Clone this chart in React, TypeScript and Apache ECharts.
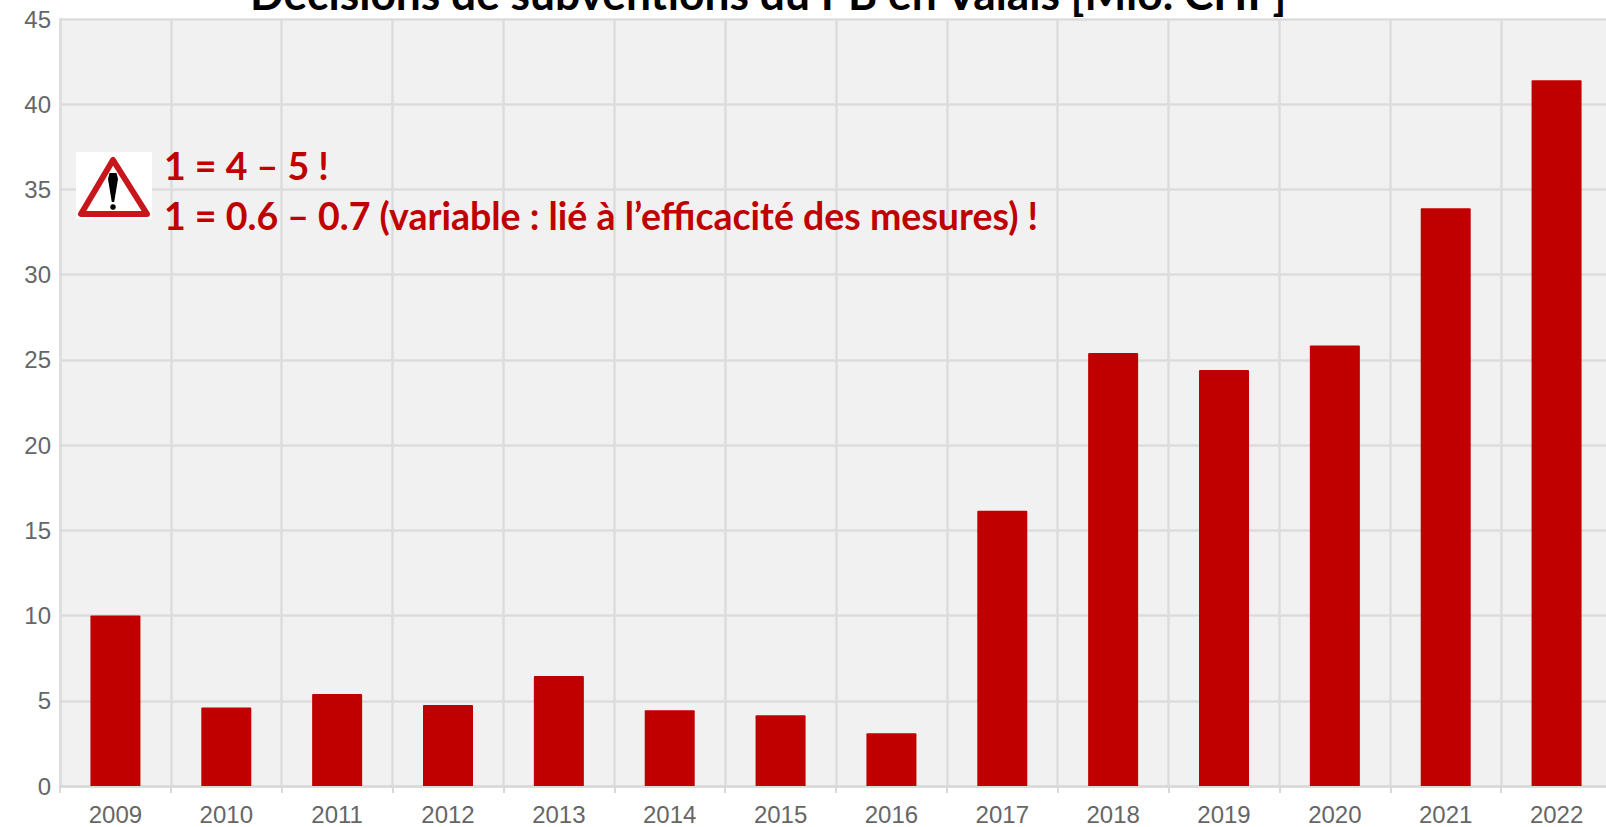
import React, { useEffect, useRef } from "react";
import * as echarts from "echarts";

const years = ["2009","2010","2011","2012","2013","2014","2015","2016","2017","2018","2019","2020","2021","2022"];
const subsidies = [10, 4.6, 5.4, 4.75, 6.45, 4.45, 4.15, 3.1, 16.15, 25.4, 24.4, 25.85, 33.9, 41.4];
const titleText = "Décisions de subventions du PB en Valais [Mio. CHF]";
const noteLine1 = "1 = 4 – 5 !";
const noteLine2 = "1 = 0.6 – 0.7 (variable : lié à l’efficacité des mesures) !";

export default function App() {
  const ref = useRef<HTMLDivElement>(null);
  useEffect(() => {
    document.body.style.margin = "0";
    document.body.style.overflow = "hidden";
    const chart = echarts.init(ref.current!, null, { renderer: "svg" });
    chart.setOption({
      animation: false,
      backgroundColor: "#ffffff",
      grid: { left: 60, top: 19, width: 1552, height: 767, backgroundColor: "#f1f1f1", show: true, borderWidth: 0, outerBoundsMode: "none", containLabel: false },
      xAxis: {
        type: "category",
        data: years,
        boundaryGap: true,
        axisLine: { show: true, lineStyle: { color: "#d9d9d9", width: 2.5 } },
        axisTick: { show: true, alignWithLabel: false, length: 7, lineStyle: { color: "#d9d9d9", width: 2 } },
        splitLine: { show: true, lineStyle: { color: "#dcdcdc", width: 2.5 } },
        axisLabel: { color: "#666666", fontFamily: "Liberation Sans", fontSize: 24, margin: 16, interval: 0 },
      },
      yAxis: {
        type: "value",
        min: 0,
        max: 45,
        interval: 5,
        axisLine: { show: true, lineStyle: { color: "#dcdcdc", width: 2.5 } },
        axisTick: { show: false },
        splitLine: { show: true, lineStyle: { color: "#dcdcdc", width: 2.5 } },
        axisLabel: { color: "#666666", fontFamily: "Liberation Sans", fontSize: 24, margin: 9, formatter: (v: number) => String(v) },
      },
      series: [
        {
          type: "bar",
          data: subsidies,
          barWidth: 50,
          itemStyle: { color: "#c00000", borderRadius: [1, 1, 0, 0] },
        },
      ],
      graphic: [
        { type: "text", left: 250, top: -30, style: { text: titleText, font: "bold 44.3px Lato", fill: "#000000" }, z: 10 },
        { type: "rect", shape: { x: 76, y: 152, width: 76, height: 67 }, style: { fill: "#ffffff" }, z: 10 },
        {
          type: "polygon",
          shape: { points: [[113, 160], [81, 214], [147, 214]] },
          style: { fill: "#ffffff", stroke: "#c8171c", lineWidth: 6, lineJoin: "round" },
          z: 11,
        },
        {
          type: "polygon",
          shape: { points: [[108, 179], [109.5, 173], [116.5, 173], [118, 179], [114.2, 202], [111.8, 202]] },
          style: { fill: "#000000" },
          z: 12,
        },
        { type: "circle", shape: { cx: 113, cy: 207, r: 2.8 }, style: { fill: "#000000" }, z: 12 },
        { type: "text", left: 164, top: 146, style: { text: noteLine1, font: "bold 37.5px Lato", fill: "#c00000" }, z: 12 },
        { type: "text", left: 164, top: 196, style: { text: noteLine2, font: "bold 37.5px Lato", fill: "#c00000" }, z: 12 },
      ],
    });
    return () => chart.dispose();
  }, []);
  return <div ref={ref} style={{ width: 1606, height: 827, overflow: "hidden" }} />;
}
